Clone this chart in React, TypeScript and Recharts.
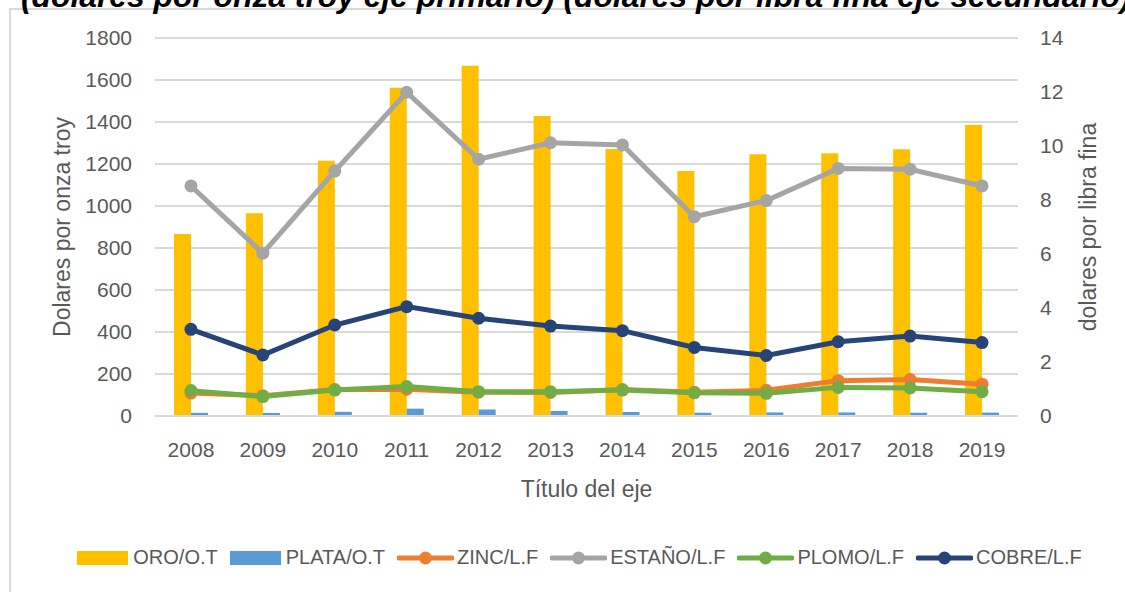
import React from "react";
import {
  ComposedChart,
  Bar,
  Line,
  XAxis,
  YAxis,
  CartesianGrid,
  Legend,
} from "recharts";

const years = ["2008", "2009", "2010", "2011", "2012", "2013", "2014", "2015", "2016", "2017", "2018", "2019"];
const oro = [867, 965, 1216, 1563, 1668, 1428, 1272, 1167, 1246, 1251, 1270, 1386];
const plata = [15, 14.7, 20, 35, 31, 24, 19, 15.7, 17.1, 17.1, 15.7, 16.2];
const zinc = [0.85, 0.75, 0.98, 0.99, 0.88, 0.87, 0.98, 0.88, 0.95, 1.31, 1.35, 1.18];
const estano = [8.52, 6.03, 9.07, 11.99, 9.51, 10.12, 10.04, 7.38, 7.98, 9.17, 9.14, 8.52];
const plomo = [0.94, 0.72, 0.96, 1.09, 0.9, 0.9, 0.96, 0.86, 0.84, 1.06, 1.04, 0.9];
const cobre = [3.21, 2.26, 3.37, 4.05, 3.62, 3.33, 3.16, 2.54, 2.24, 2.75, 2.96, 2.72];

const leftTicks = [0, 200, 400, 600, 800, 1000, 1200, 1400, 1600, 1800];
const rightTicks = [0, 2, 4, 6, 8, 10, 12, 14];

const data = years.map((y, i) => ({
  year: y,
  oro: oro[i],
  plata: plata[i],
  zinc: zinc[i],
  estano: estano[i],
  plomo: plomo[i],
  cobre: cobre[i],
}));

const COLORS = {
  oro: "#FFC000",
  plata: "#5B9BD5",
  zinc: "#ED7D31",
  estano: "#A5A5A5",
  plomo: "#70AD47",
  cobre: "#264478",
};

const legendItems = [
  { key: "oro", label: "ORO/O.T", type: "bar" },
  { key: "plata", label: "PLATA/O.T", type: "bar" },
  { key: "zinc", label: "ZINC/L.F", type: "line" },
  { key: "estano", label: "ESTAÑO/L.F", type: "line" },
  { key: "plomo", label: "PLOMO/L.F", type: "line" },
  { key: "cobre", label: "COBRE/L.F", type: "line" },
];

const FONT = "'Liberation Sans', Arial, sans-serif";
const TEXT = "#595959";

function LegendContent() {
  return (
    <div
      style={{
        display: "flex",
        justifyContent: "center",
        alignItems: "center",
        fontFamily: FONT,
        fontSize: 20,
        color: TEXT,
        paddingLeft: 46,
      }}
    >
      {legendItems.map((it) => {
        const c = (COLORS as any)[it.key];
        return (
          <div key={it.key} style={{ display: "flex", alignItems: "center", marginRight: 12 }}>
            {it.type === "bar" ? (
              <div style={{ width: 51, height: 14, background: c, marginRight: 5 }} />
            ) : (
              <svg width={57} height={16} style={{ marginRight: 3 }}>
                <line x1={2} y1={8} x2={55} y2={8} stroke={c} strokeWidth={5} strokeLinecap="round" />
                <circle cx={28.5} cy={8} r={6.5} fill={c} />
              </svg>
            )}
            <span style={{ whiteSpace: "nowrap" }}>{it.label}</span>
          </div>
        );
      })}
    </div>
  );
}

export default function App() {
  return (
    <div
      style={{
        position: "absolute",
        left: 0,
        top: 0,
        width: 1125,
        height: 592,
        overflow: "hidden",
        background: "#fff",
      }}
    >
      <div
        style={{
          position: "absolute",
          left: 9,
          top: 8,
          width: 1300,
          height: 800,
          border: "2px solid #d9d9d9",
          boxSizing: "border-box",
        }}
      />
      <div
        style={{
          position: "absolute",
          left: 21,
          top: -22,
          whiteSpace: "nowrap",
          fontFamily: FONT,
          fontWeight: "bold",
          fontStyle: "italic",
          fontSize: 31.8,
          lineHeight: "36px",
          color: "#000",
        }}
      >
        (dolares por onza troy eje primario) (dolares por libra fina eje secundario)
      </div>
      <div style={{ position: "absolute", left: 0, top: 0 }}>
        <ComposedChart
          width={1125}
          height={592}
          data={data}
          margin={{ top: 38, right: 0, left: 0, bottom: 86 }}
          barGap={0}
          style={{ fontFamily: FONT }}
        >
          <CartesianGrid yAxisId="l" vertical={false} stroke="#d9d9d9" strokeWidth={2} />
          <XAxis
            dataKey="year"
            height={90}
            axisLine={{ stroke: "#d9d9d9", strokeWidth: 2 }}
            tickLine={false}
            tickMargin={20}
            tick={{ fill: TEXT, fontSize: 21 }}
            label={{ value: "Título del eje", position: "insideBottom", offset: 9, fill: TEXT, fontSize: 23 }}
          />
          <YAxis
            yAxisId="l"
            orientation="left"
            width={155}
            domain={[0, 1800]}
            ticks={leftTicks}
            axisLine={false}
            tickLine={false}
            tickMargin={17}
            tick={{ fill: TEXT, fontSize: 21 }}
            label={{
              value: "Dolares por onza troy",
              angle: -90,
              position: "insideLeft",
              offset: 62,
              fill: TEXT,
              fontSize: 23,
              style: { textAnchor: "middle" },
            }}
          />
          <YAxis
            yAxisId="r"
            orientation="right"
            width={107}
            domain={[0, 14]}
            ticks={rightTicks}
            axisLine={false}
            tickLine={false}
            tickMargin={16}
            tick={{ fill: TEXT, fontSize: 21 }}
            label={{
              value: "dolares por libra fina",
              angle: -90,
              position: "insideRight",
              offset: 37,
              fill: TEXT,
              fontSize: 23,
              style: { textAnchor: "middle" },
            }}
          />
          <Legend
            layout="horizontal"
            verticalAlign="middle"
            align="center"
            wrapperStyle={{ top: 546, left: 0, width: 1125 }}
            content={() => <LegendContent />}
          />
          <Bar yAxisId="l" dataKey="oro" name="ORO/O.T" fill={COLORS.oro} barSize={17} isAnimationActive={false} />
          <Bar yAxisId="l" dataKey="plata" name="PLATA/O.T" fill={COLORS.plata} barSize={17} isAnimationActive={false} />
          <Line
            yAxisId="r"
            dataKey="zinc"
            name="ZINC/L.F"
            stroke={COLORS.zinc}
            strokeWidth={5}
            dot={{ r: 6.5, fill: COLORS.zinc, stroke: COLORS.zinc, strokeWidth: 0 }}
            isAnimationActive={false}
          />
          <Line
            yAxisId="r"
            dataKey="estano"
            name="ESTAÑO/L.F"
            stroke={COLORS.estano}
            strokeWidth={5}
            dot={{ r: 6.5, fill: COLORS.estano, stroke: COLORS.estano, strokeWidth: 0 }}
            isAnimationActive={false}
          />
          <Line
            yAxisId="r"
            dataKey="plomo"
            name="PLOMO/L.F"
            stroke={COLORS.plomo}
            strokeWidth={5}
            dot={{ r: 6.5, fill: COLORS.plomo, stroke: COLORS.plomo, strokeWidth: 0 }}
            isAnimationActive={false}
          />
          <Line
            yAxisId="r"
            dataKey="cobre"
            name="COBRE/L.F"
            stroke={COLORS.cobre}
            strokeWidth={5}
            dot={{ r: 6.5, fill: COLORS.cobre, stroke: COLORS.cobre, strokeWidth: 0 }}
            isAnimationActive={false}
          />
        </ComposedChart>
      </div>
    </div>
  );
}
